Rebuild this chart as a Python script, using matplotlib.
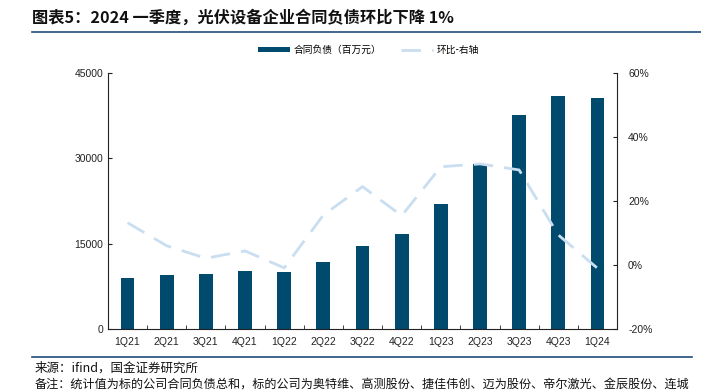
import numpy as np
import matplotlib
matplotlib.use("Agg")
import matplotlib.pyplot as plt
from matplotlib.ticker import FuncFormatter, FixedLocator

plt.rcParams['font.family'] = ['Liberation Sans', 'Noto Sans CJK SC', 'DejaVu Sans']

quarters = ['1Q21', '2Q21', '3Q21', '4Q21', '1Q22', '2Q22', '3Q22', '4Q22',
            '1Q23', '2Q23', '3Q23', '4Q23', '1Q24']
contract_liab = [8900, 9450, 9700, 10150, 10100, 11750, 14550, 16750,
                 21900, 28950, 37550, 41000, 40600]
qoq_pct = [13.2, 6.0, 2.1, 4.4, -0.9, 15.6, 24.5, 15.4,
           30.7, 31.6, 29.7, 9.4, -1.0]

title = '图表5：2024 一季度，光伏设备企业合同负债环比下降 1%'
bar_label = '合同负债（百万元）'
line_label = '环比-右轴'
source = '来源：ifind，国金证券研究所'
note = '备注：统计值为标的公司合同负债总和，标的公司为奥特维、高测股份、捷佳伟创、迈为股份、帝尔激光、金辰股份、连城'

bar_color = '#004a6e'
line_color = '#c9def0'

fig = plt.figure(figsize=(7.01, 3.92), dpi=100)
ax = fig.add_axes([108/701, 1-329/392, (617-108)/701, (329-73)/392])
x = np.arange(len(quarters))
bars = ax.bar(x, contract_liab, width=0.35, color=bar_color, label=bar_label, zorder=2)
ax.set_xlim(-0.5, len(quarters)-0.5)
ax.set_ylim(0, 45000)
ax.set_yticks([0, 15000, 30000, 45000])
ax.set_xticks(x)
ax.set_xticklabels(quarters)
ax.xaxis.set_minor_locator(FixedLocator(np.arange(0.5, len(quarters)-1, 1)))
ax.tick_params(axis='x', which='major', length=0, labelsize=7.5, pad=6, colors='#222222')
ax.tick_params(axis='x', which='minor', length=3, direction='in', color='#222222')
ax.tick_params(axis='y', length=3, direction='in', labelsize=7.5, colors='#222222')
ax.spines['top'].set_visible(False)
ax.spines['right'].set_visible(False)
for s in ['left', 'bottom']:
    ax.spines[s].set_color('#222222')
    ax.spines[s].set_linewidth(0.8)

ax2 = ax.twinx()
ln, = ax2.plot(x, qoq_pct, color=line_color, lw=2, dashes=(7, 4), label=line_label, zorder=3)
ax2.set_ylim(-20, 60)
ax2.set_yticks([-20, 0, 20, 40, 60])
ax2.yaxis.set_major_formatter(FuncFormatter(lambda v, p: f'{v:.0f}%'))
ax2.tick_params(axis='y', length=3, direction='in', labelsize=7.5, colors='#222222', pad=8)
ax2.spines['top'].set_visible(False)
ax2.spines['left'].set_visible(False)
ax2.spines['bottom'].set_visible(False)
ax2.spines['right'].set_color('#222222')
ax2.spines['right'].set_linewidth(0.8)

fig.legend(handles=[bars, ln], loc='center left', bbox_to_anchor=(253/701, 1-50/392), ncol=2,
           frameon=False, borderpad=0, handlelength=3.3, handleheight=0.55,
           handletextpad=0.4, columnspacing=2.0,
           prop={'family': ['Noto Sans CJK SC'], 'size': 7})

fig.text(32/701, 1-17/392, title, fontsize=11.7, fontweight='bold',
         va='center', family=['Noto Sans CJK SC'], color='#111111')
fig.add_artist(plt.Line2D([32/701, 1], [1-32/392, 1-32/392], color='#1f4e79', lw=1.2))
fig.add_artist(plt.Line2D([32/701, 692/701], [1-357/392, 1-357/392], color='#1f4e79', lw=1.2))
fig.text(35/701, 1-368/392, source, fontsize=9, va='center', family=['Noto Sans CJK SC'], color='#111111')
fig.text(35/701, 1-384/392, note, fontsize=8.7, va='center', family=['Noto Sans CJK SC'], color='#111111')

fig.savefig('out.png', dpi=100)
